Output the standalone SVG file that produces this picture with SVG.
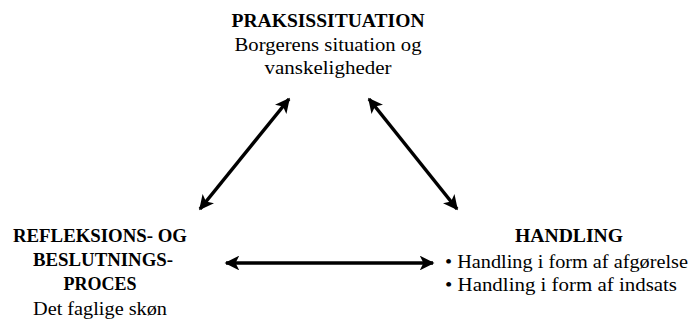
<svg xmlns="http://www.w3.org/2000/svg" width="692" height="322" viewBox="0 0 692 322">
  <style>
    .title { font-weight: bold; }
    .mid { text-anchor: middle; }
    .conn { stroke: #000; stroke-width: 3.5; fill: none; marker-start: url(#head); marker-end: url(#head); }
  </style>
  <defs>
    <marker id="head" viewBox="0 0 10 10" refX="9" refY="5" markerWidth="4.4" markerHeight="4.2" orient="auto-start-reverse" markerUnits="strokeWidth">
      <path d="M0,0 L10,5 L0,10 L2.5,5 Z" fill="#000"/>
    </marker>
  </defs>
  <rect width="692" height="322" fill="#fff"/>

  <g font-family="'Liberation Serif', 'Times New Roman', serif" font-size="18.5" fill="#000">
    <g id="praksissituation">
      <text class="title mid" x="328" y="27" textLength="193" lengthAdjust="spacingAndGlyphs">PRAKSISSITUATION</text>
      <text class="mid" x="328" y="51" textLength="187" lengthAdjust="spacingAndGlyphs">Borgerens situation og</text>
      <text class="mid" x="328" y="74" textLength="127" lengthAdjust="spacingAndGlyphs">vanskeligheder</text>
    </g>

    <g id="refleksion">
      <text class="title mid" x="100" y="242" textLength="174" lengthAdjust="spacingAndGlyphs">REFLEKSIONS- OG</text>
      <text class="title mid" x="103" y="266" textLength="140" lengthAdjust="spacingAndGlyphs">BESLUTNINGS-</text>
      <text class="title mid" x="100" y="290" textLength="73" lengthAdjust="spacingAndGlyphs">PROCES</text>
      <text class="mid" x="100" y="315" textLength="134" lengthAdjust="spacingAndGlyphs">Det faglige skøn</text>
    </g>

    <g id="handling">
      <text class="title mid" x="569" y="242" textLength="108" lengthAdjust="spacingAndGlyphs">HANDLING</text>
      <text x="445" y="268" textLength="243" lengthAdjust="spacingAndGlyphs">• Handling i form af afgørelse</text>
      <text x="445" y="291" textLength="232" lengthAdjust="spacingAndGlyphs">• Handling i form af indsats</text>
    </g>
  </g>

  <g id="connectors">
    <line class="conn" x1="200" y1="209" x2="289" y2="99"/>
    <line class="conn" x1="369" y1="99" x2="457" y2="209"/>
    <line class="conn" x1="226" y1="263" x2="433" y2="263"/>
  </g>
</svg>
